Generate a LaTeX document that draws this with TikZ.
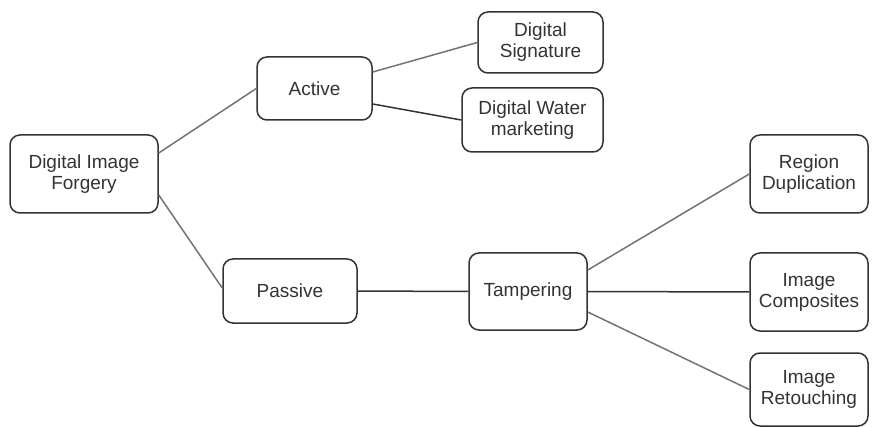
\documentclass[tikz,border=0pt]{standalone}
\usepackage{fontspec}
\setmainfont{Liberation Sans}
\begin{document}
\begin{tikzpicture}[x=1pt,y=-1pt,
  box/.style={draw=black!80, line width=1.5pt, rounded corners=10pt, align=center,
    text=black!80, font=\fontsize{19}{21}\selectfont, inner sep=0pt},
  lnk/.style={draw=black!55, line width=1.5pt},
  dlnk/.style={draw=black!80, line width=1.5pt}]
\useasboundingbox (0,0) rectangle (877,427);
\node[box, minimum width=148pt, minimum height=78pt] (dif) at (84,174) {Digital Image\\Forgery};
\node[box, minimum width=115pt, minimum height=63pt] (act) at (314.5,88.5) {Active};
\node[box, minimum width=125pt, minimum height=61pt] (ds) at (540.5,42.5) {Digital\\Signature};
\node[box, minimum width=141pt, minimum height=64pt] (dwm) at (532.5,120) {Digital Water\\marketing};
\node[box, minimum width=134pt, minimum height=64pt] (pas) at (290,291) {Passive};
\node[box, minimum width=118pt, minimum height=77pt] (tam) at (528,291.5) {Tampering};
\node[box, minimum width=118pt, minimum height=78pt] (rd) at (809,174) {Region\\Duplication};
\node[box, minimum width=118pt, minimum height=78pt] (ic) at (809,292) {Image\\Composites};
\node[box, minimum width=118pt, minimum height=73pt] (ir) at (809,389.5) {Image\\Retouching};
\draw[lnk] ([yshift=21pt]dif.east) -- (act.west);
\draw[lnk] ([yshift=-21pt]dif.east) -- ([yshift=3pt]pas.west);
\draw[lnk] ([yshift=16.5pt]act.east) -- (ds.west);
\draw[dlnk] ([yshift=-15.5pt]act.east) -- (dwm.west);
\draw[dlnk] (pas.east) -- (tam.west);
\draw[lnk] ([yshift=21.5pt]tam.east) -- (rd.west);
\draw[dlnk] (tam.east) -- (ic.west);
\draw[lnk] ([yshift=-20.5pt]tam.east) -- (ir.west);
\end{tikzpicture}
\end{document}
